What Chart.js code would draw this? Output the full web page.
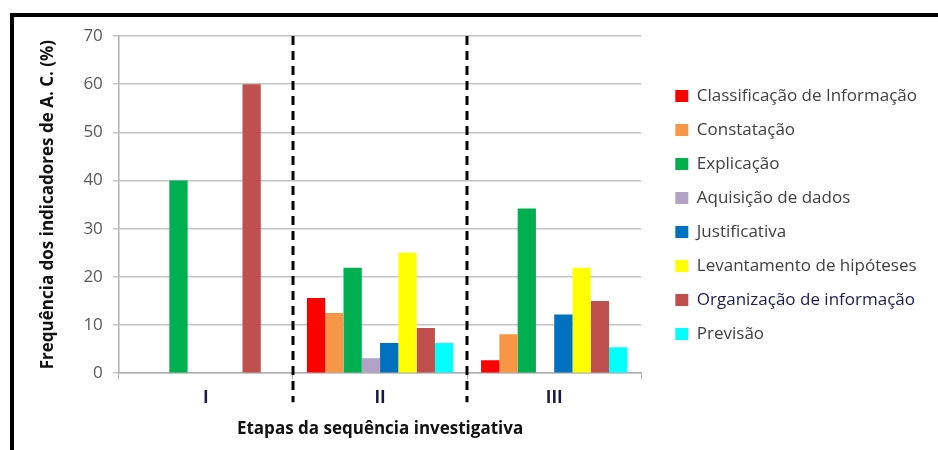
<!DOCTYPE html>
<html><head><meta charset="utf-8">
<script src="https://cdn.jsdelivr.net/npm/chart.js@4.4.1/dist/chart.umd.min.js"></script>
<style>
html,body{margin:0;padding:0;background:#fff;}
#wrap{position:relative;width:938px;height:450px;overflow:hidden;}
#frame{position:absolute;left:10px;top:13px;width:1000px;height:1000px;border-left:4px solid #000;border-top:4px solid #000;}
canvas{position:absolute;left:0;top:0;}
</style></head><body>
<div id="wrap"><div id="frame"></div><canvas id="c" width="938" height="450"></canvas></div>
<script>
const categories = ['I', 'II', 'III'];
const seriesNames = ['Classificação de Informação', 'Constatação', 'Explicação', 'Aquisição de dados',
  'Justificativa', 'Levantamento de hipóteses', 'Organização de informação', 'Previsão'];
const classificacao = [0, 15.6, 2.7];
const constatacao = [0, 12.5, 8.1];
const explicacao = [40, 21.9, 34.2];
const aquisicao = [0, 3.1, 0];
const justificativa = [0, 6.25, 12.2];
const levantamento = [0, 25, 21.9];
const organizacao = [60, 9.4, 15.0];
const previsao = [0, 6.25, 5.4];
const yTicks = [0, 10, 20, 30, 40, 50, 60, 70];
const yTitle = 'Frequência dos indicadores de A. C. (%)';
const xTitle = 'Etapas da sequência investigativa';

const seriesValues = [classificacao, constatacao, explicacao, aquisicao, justificativa, levantamento, organizacao, previsao];
const seriesColors = ['#FF0000', '#F79646', '#00B050', '#B3A2C7', '#0070C0', '#FFFF00', '#C0504D', '#00FFFF'];
const legendTextColors = ['#404040', '#404040', '#404040', '#404040', '#404040', '#404040', '#1c1c50', '#404040'];

const FONT = '"Open Sans", Lato, sans-serif';

const dividers = {
  id: 'dividers',
  afterDatasetsDraw(chart) {
    const xs = chart.scales.x, area = chart.chartArea, ctx = chart.ctx;
    ctx.save();
    ctx.strokeStyle = '#000';
    ctx.lineWidth = 3;
    ctx.setLineDash([9, 6]);
    for (let i = 1; i < categories.length; i++) {
      const x = Math.round((xs.getPixelForValue(i - 1) + xs.getPixelForValue(i)) / 2);
      ctx.beginPath();
      ctx.moveTo(x, area.top);
      ctx.lineTo(x, area.bottom + 29);
      ctx.stroke();
    }
    ctx.restore();
  }
};

new Chart(document.getElementById('c'), {
  type: 'bar',
  data: {
    labels: categories,
    datasets: seriesNames.map((n, i) => ({
      label: n,
      data: seriesValues[i],
      backgroundColor: seriesColors[i],
      borderWidth: 0,
      categoryPercentage: 0.84,
      barPercentage: 1.0
    }))
  },
  options: {
    responsive: false,
    animation: false,
    layout: { padding: { left: 33, top: 36, right: 11, bottom: 4 } },
    plugins: {
      tooltip: { enabled: false },
      legend: {
        position: 'right',
        align: 'center',
        fullSize: false,
        maxWidth: 400,
        title: { display: true, text: ' ', font: { size: 12 }, padding: 3.3 },
        labels: {
          boxWidth: 13, boxHeight: 12, padding: 17,
          font: { family: FONT, size: 17 },
          color: '#404040',
          generateLabels(chart) {
            return chart.data.datasets.map((d, i) => ({
              text: d.label, fillStyle: seriesColors[i], strokeStyle: seriesColors[i],
              lineWidth: 0, fontColor: legendTextColors[i], datasetIndex: i, hidden: false
            }));
          }
        }
      }
    },
    scales: {
      x: {
        grid: { display: true, drawOnChartArea: false, offset: true, color: '#b0b0b0', tickLength: 6 },
        border: { color: '#b0b0b0', width: 1.5 },
        ticks: { color: '#1a1a40', padding: 9, font: { family: FONT, size: 17, weight: 'bold' } },
        title: { display: true, text: xTitle, color: '#111', padding: { top: 1, bottom: 7 },
          font: { family: FONT, size: 17, weight: 'bold' } }
      },
      y: {
        min: 0, max: 70,
        afterBuildTicks(s) { s.ticks = yTicks.map(v => ({ value: v })); },
        grid: { color: '#c4c4c4', lineWidth: 1.5, tickLength: 6 },
        border: { color: '#b0b0b0', width: 1.5 },
        ticks: { color: '#595959', padding: 10, font: { family: FONT, size: 17 } },
        title: { display: true, text: yTitle, color: '#111', padding: { top: 5, bottom: 15 },
          font: { family: FONT, size: 17, weight: 'bold' } }
      },
      gap: {
        position: 'right', display: true, grid: { display: false }, border: { display: false },
        ticks: { display: false },
        afterFit(s) { s.width = 17; }
      }
    }
  },
  plugins: [dividers]
});
</script>
</body></html>
